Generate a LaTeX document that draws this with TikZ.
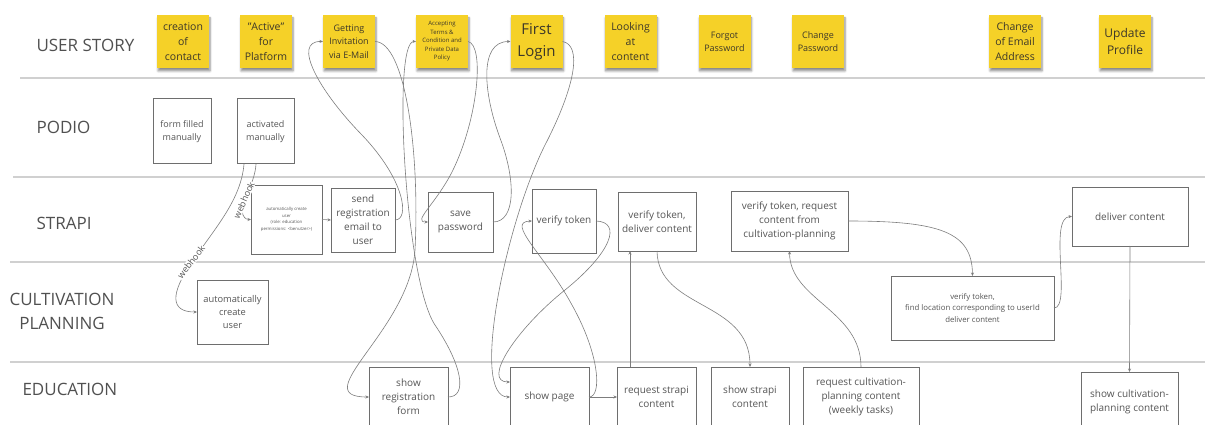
\documentclass[tikz,border=0pt]{standalone}
\usepackage{fontspec}
\setmainfont{Open Sans}
\usetikzlibrary{arrows.meta,shadows.blur}

\begin{document}
\begin{tikzpicture}[x=1pt,y=-1pt,
    lane/.style={draw=lanegray, line width=1.3pt},
    lanelabel/.style={anchor=base west, text=labelgray, font=\fontsize{17}{24}\selectfont},
    sticky/.style={fill=stickyyellow, text=stickytext, minimum width=52pt, minimum height=53pt,
        inner sep=0pt, outer sep=0pt, align=center,
        blur shadow={shadow xshift=1pt, shadow yshift=-3pt, shadow opacity=45, shadow blur steps=6}},
    procbox/.style={draw=boxgray, line width=1pt, fill=white, text=boxtext, inner sep=0pt,
        outer sep=0pt, align=center, font=\fontsize{10}{14}\selectfont},
    flow/.style={draw=arrowgray, line width=0.6pt, -{Stealth[length=3.5pt,width=3pt]}},
    hooklabel/.style={fill=white, inner sep=0.5pt, text=boxtext, font=\fontsize{9}{10}\selectfont}]
    \definecolor{stickyyellow}{RGB}{245,209,40}
    \definecolor{stickytext}{RGB}{60,55,40}
    \definecolor{lanegray}{RGB}{208,208,208}
    \definecolor{labelgray}{RGB}{80,80,80}
    \definecolor{boxgray}{RGB}{110,110,110}
    \definecolor{boxtext}{RGB}{85,85,85}
    \definecolor{arrowgray}{RGB}{125,125,125}

    \useasboundingbox (0,0) rectangle (1205,425);
    \clip (0,0) rectangle (1205,425);

    % swimlanes
    \draw[lane] (20,78) -- (1205,78);
    \draw[lane] (13,177) -- (1205,177);
    \draw[lane] (10,262) -- (1205,262);
    \draw[lane] (10,362) -- (1205,362);

    \node[lanelabel] (lanestory) at (33,52) {USER STORY};
    \node[lanelabel] (lanepodio) at (33,134) {PODIO};
    \node[lanelabel] (lanestrapi) at (33,229) {STRAPI};
    \node[lanelabel, anchor=center, align=center] (lanecult) at (62,311) {CULTIVATION\\PLANNING};
    \node[lanelabel] (laneedu) at (19,395) {EDUCATION};

    % user stories
    \node[sticky, font=\fontsize{10.5}{15}\selectfont] (creation) at (183,41.5) {creation\\of\\contact};
    \node[sticky, font=\fontsize{10.5}{15}\selectfont] (active) at (266,41.5) {"Active"\\for\\Platform};
    \node[sticky, font=\fontsize{9}{13.5}\selectfont] (invite) at (349,41.5) {Getting\\Invitation\\via E-Mail};
    \node[sticky, font=\fontsize{6}{8.5}\selectfont] (terms) at (442,41.5) {Accepting\\Terms \&\\Condition and\\Private Data\\Policy};
    \node[sticky, font=\fontsize{15}{22}\selectfont] (login) at (536.5,41.5) {First\\Login};
    \node[sticky, font=\fontsize{10.5}{15}\selectfont] (looking) at (630.5,41.5) {Looking\\at\\content};
    \node[sticky, font=\fontsize{9}{13}\selectfont] (forgot) at (724.5,41.5) {Forgot\\Password};
    \node[sticky, font=\fontsize{9}{13}\selectfont] (changepw) at (818,41.5) {Change\\Password};
    \node[sticky, font=\fontsize{10.5}{15}\selectfont] (changemail) at (1015,41.5) {Change\\of Email\\Address};
    \node[sticky, font=\fontsize{12}{17}\selectfont] (profile) at (1125,41.5) {Update\\Profile};

    % podio
    \node[procbox, minimum width=58pt, minimum height=65pt, font=\fontsize{9}{12.5}\selectfont] (formfilled) at (182,131.5) {form filled\\manually};
    \node[procbox, minimum width=57pt, minimum height=65pt, font=\fontsize{9}{12.5}\selectfont] (activated) at (265.5,131.5) {activated\\manually};

    % strapi
    \node[procbox, minimum width=71pt, minimum height=69pt, font=\fontsize{4.3}{6.5}\selectfont] (stcreate) at (286.5,219.5) {automatically create\\user\\(role: education\\permissions: <benutzer>)};
    \node[procbox, minimum width=64pt, minimum height=64pt] (sendmail) at (363,220) {send\\registration\\email to\\user};
    \node[procbox, minimum width=65pt, minimum height=60pt] (savepw) at (460.5,222) {save\\password};
    \node[procbox, minimum width=64pt, minimum height=64pt] (verify) at (564,221) {verify token};
    \node[procbox, minimum width=78pt, minimum height=59pt] (tokendeliver) at (657,221.5) {verify token,\\deliver content};
    \node[procbox, minimum width=117pt, minimum height=60pt] (tokenrequest) at (789.5,221) {verify token, request\\content from\\cultivation-planning};
    \node[procbox, minimum width=116pt, minimum height=59pt] (delivercp) at (1130,216.5) {deliver content};

    % cultivation planning
    \node[procbox, minimum width=71pt, minimum height=64pt, font=\fontsize{9.3}{13}\selectfont] (cpcreate) at (232.5,312) {automatically\\create\\user};
    \node[procbox, minimum width=163pt, minimum height=64pt, font=\fontsize{7.8}{11.5}\selectfont] (findloc) at (972.5,308) {verify token,\\find location corresponding to userId\\deliver content};

    % education
    \node[procbox, minimum width=79pt, minimum height=60pt] (regform) at (408.5,397) {show\\registration\\form};
    \node[procbox, minimum width=79pt, minimum height=60pt] (showpage) at (549.5,397) {show page};
    \node[procbox, minimum width=79pt, minimum height=60pt] (reqstrapi) at (656.5,397) {request strapi\\content};
    \node[procbox, minimum width=78pt, minimum height=60pt] (showstrapi) at (750,397) {show strapi\\content};
    \node[procbox, minimum width=116pt, minimum height=60pt] (reqcult) at (861,397) {request cultivation-\\planning content\\(weekly tasks)};
    \node[procbox, minimum width=97pt, minimum height=60pt] (showcult) at (1129.5,402) {show cultivation-\\planning content};

    % connectors
    \draw[flow] ([xshift=-21.5pt]activated.south) .. controls (241,200) and (215,228) .. (192,262) .. controls (170,294) and (170,312) .. (cpcreate.west);
    \draw[flow] ([xshift=-9.5pt]activated.south) .. controls (255,185) and (238,205) .. (243,215) .. controls (245,219) and (247,219.5) .. (stcreate.west);
    \node[hooklabel, rotate=52] (hookcp) at (191,262) {webhook};
    \node[hooklabel, rotate=66] (hookst) at (244,200) {webhook};

    \draw[flow] (stcreate.east) -- (sendmail.west);
    \draw[flow] (sendmail.east) .. controls (410,220) and (405,180) .. (362,135) .. controls (318,90) and (292,41) .. (invite.west);
    \draw[flow] (invite.east) .. controls (405,42) and (420,150) .. (415,250) .. controls (410,330) and (305,397) .. (regform.west);
    \draw[flow] (regform.east) .. controls (468,397) and (462,365) .. (435,325) .. controls (405,280) and (392,41) .. (terms.west);
    \draw[flow] (terms.east) .. controls (485,45) and (478,120) .. (452,172) .. controls (435,205) and (412,222) .. (savepw.west);
    \draw[flow] (savepw.east) .. controls (516,222) and (516,180) .. (500,138) .. controls (484,95) and (478,41.5) .. (login.west);
    \draw[flow] (login.east) .. controls (582,45) and (576,85) .. (545,145) .. controls (505,225) and (470,397) .. (showpage.west);
    \draw[flow] (verify.east) .. controls (622,222) and (612,252) .. (565,290) .. controls (515,330) and (482,382) .. ([yshift=15pt]showpage.west);
    \draw[flow] (showpage.east) .. controls (602,397) and (600,355) .. (572,305) .. controls (545,255) and (505,222) .. (verify.west);
    \draw[flow] (showpage.east) -- (reqstrapi.west);
    \draw[flow] ([xshift=-26.5pt]reqstrapi.north) -- ([xshift=-27pt]tokendeliver.south);
    \draw[flow] (tokendeliver.south) .. controls (658,310) and (750,300) .. (showstrapi.north);
    \draw[flow] (reqcult.north) .. controls (861,310) and (790,300) .. (tokenrequest.south);
    \draw[flow] (tokenrequest.east) .. controls (940,221) and (972,232) .. (findloc.north);
    \draw[flow] (findloc.east) .. controls (1072,308) and (1048,217) .. (delivercp.west);
    \draw[flow] (delivercp.south) -- (showcult.north);
\end{tikzpicture}
\end{document}
